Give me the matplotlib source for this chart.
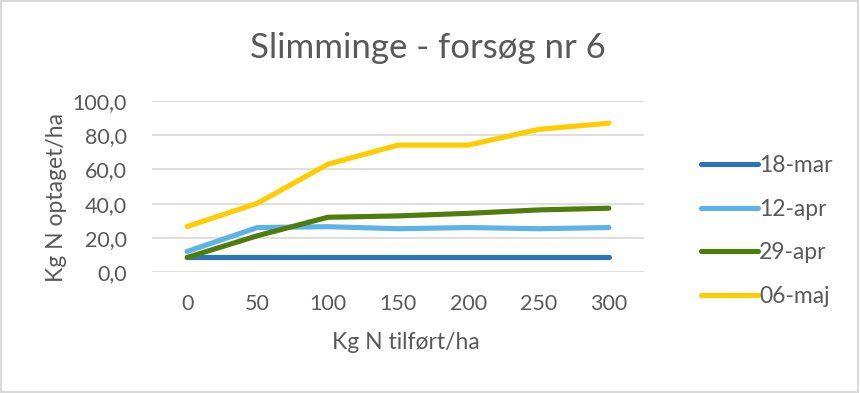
import matplotlib
matplotlib.use("Agg")
import matplotlib.pyplot as plt
from matplotlib.patches import Rectangle

# data
doses = ["0", "50", "100", "150", "200", "250", "300"]
mar18 = [8.5, 8.5, 8.5, 8.5, 8.5, 8.5, 8.5]
apr12 = [12.0, 26.0, 26.5, 25.3, 26.0, 25.3, 26.0]
apr29 = [8.5, 21.2, 32.0, 32.8, 34.3, 36.3, 37.3]
maj06 = [26.6, 40.2, 63.0, 74.2, 74.2, 83.4, 87.0]

series = [("18-mar", mar18, "#2E75B6"),
          ("12-apr", apr12, "#5DB2E6"),
          ("29-apr", apr29, "#4E7D0E"),
          ("06-maj", maj06, "#FFCC00")]

txt = "#595959"
plt.rcParams["font.family"] = ["Lato", "DejaVu Sans"]

fig = plt.figure(figsize=(8.6, 3.93), dpi=100)
ax = fig.add_axes([152 / 860, 1 - 272 / 393, 492 / 860, 171 / 393])

xs = range(len(doses))
for name, vals, c in series:
    ax.plot(xs, vals, color=c, linewidth=3.7, solid_capstyle="round", label=name)

ax.set_xlim(-0.5, len(doses) - 0.5)
ax.set_ylim(0, 100)
ax.set_yticks(range(0, 101, 20))
ax.set_yticklabels([f"{v},0" for v in range(0, 101, 20)])
ax.set_xticks(list(xs))
ax.set_xticklabels(doses)
ax.grid(axis="y", color="#D9D9D9", linewidth=1.2)
ax.set_axisbelow(True)
for s in ax.spines.values():
    s.set_visible(False)
ax.tick_params(length=0, colors=txt, labelsize=15.5)
ax.tick_params(axis="x", pad=16)
ax.tick_params(axis="y", pad=18)

ax.set_xlabel("Kg N tilført/ha", color=txt, fontsize=16.5)
ax.set_ylabel("Kg N optaget/ha", color=txt, fontsize=16.5)
ax.xaxis.set_label_coords(0.516, -0.41)
ax.yaxis.set_label_coords(-0.195, 0.433)
ax.xaxis.label.set_va("center")
ax.yaxis.label.set_va("center")
fig.text(428 / 860, 1 - 48 / 393, "Slimminge - forsøg nr 6", color=txt,
         fontsize=25, ha="center", va="center")

fig.legend(loc="center left", bbox_to_anchor=(680 / 860, 1 - 231 / 393),
           frameon=False, fontsize=16.5, labelcolor=txt, handlelength=2.5,
           handletextpad=0.05, labelspacing=1.0)

# outer chart border
fig.patches.append(Rectangle((0.001, 0.002), 0.997, 0.995, transform=fig.transFigure,
                             fill=False, edgecolor="#D9D9D9", linewidth=1.5))

fig.savefig("out.png", dpi=100)
